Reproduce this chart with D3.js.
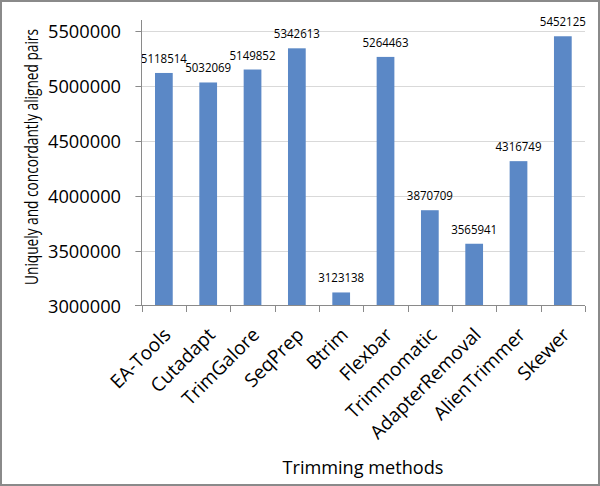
<!DOCTYPE html>
<html>
<head>
<meta charset="utf-8">
<script src="https://cdn.jsdelivr.net/npm/d3@7"></script>
<style>
  body { margin: 0; background: #fff; }
  svg { display: block; font-family: "Open Sans", sans-serif; }
</style>
</head>
<body>
<svg id="chart" width="600" height="486"></svg>
<script>
var methods = ["EA-Tools", "Cutadapt", "TrimGalore", "SeqPrep", "Btrim", "Flexbar",
               "Trimmomatic", "AdapterRemoval", "AlienTrimmer", "Skewer"];
var pairs = [5118514, 5032069, 5149852, 5342613, 3123138, 5264463,
             3870709, 3565941, 4316749, 5452125];
var yTicks = [3000000, 3500000, 4000000, 4500000, 5000000, 5500000];

var svg = d3.select("#chart");
var width = 600, height = 486;

// outer frame
svg.append("rect")
    .attr("x", 1).attr("y", 1)
    .attr("width", width - 2).attr("height", height - 2)
    .attr("fill", "#fff")
    .attr("stroke", "#8a8a8a")
    .attr("stroke-width", 2);

var x = d3.scaleBand()
    .domain(methods)
    .range([141.7, 585])
    .paddingInner(0.6)
    .paddingOuter(0.3);

var y = d3.scaleLinear()
    .domain([3000000, 5500000])
    .range([306, 31]);

// gridlines + y tick marks
svg.append("g")
    .selectAll("line")
    .data(yTicks.slice(1))
    .enter().append("line")
    .attr("x1", 135.5).attr("x2", 585)
    .attr("y1", function (d) { return Math.round(y(d)) + 0.5; })
    .attr("y2", function (d) { return Math.round(y(d)) + 0.5; })
    .attr("stroke", "#d9d9d9");

svg.append("g")
    .selectAll("line")
    .data(yTicks.slice(1))
    .enter().append("line")
    .attr("x1", 135.5).attr("x2", 141.7)
    .attr("y1", function (d) { return Math.round(y(d)) + 0.5; })
    .attr("y2", function (d) { return Math.round(y(d)) + 0.5; })
    .attr("stroke", "#8a8a8a");

// y tick labels
svg.append("g")
    .selectAll("text")
    .data(yTicks)
    .enter().append("text")
    .attr("x", 121)
    .attr("y", function (d) { return y(d) + 6.5; })
    .attr("text-anchor", "end")
    .attr("font-size", 18.5)
    .attr("textLength", 73)
    .attr("lengthAdjust", "spacingAndGlyphs")
    .attr("fill", "#000")
    .text(function (d) { return d; });

// bars
svg.append("g")
    .selectAll("rect")
    .data(pairs)
    .enter().append("rect")
    .attr("x", function (d, i) { return x(methods[i]); })
    .attr("width", x.bandwidth())
    .attr("y", function (d) { return y(d); })
    .attr("height", function (d) { return y(3000000) - y(d); })
    .attr("fill", "#5b88c6");

// value labels
svg.append("g")
    .selectAll("text")
    .data(pairs)
    .enter().append("text")
    .attr("x", function (d, i) { return x(methods[i]) + x.bandwidth() / 2; })
    .attr("y", function (d) { return y(d) - 10; })
    .attr("text-anchor", "middle")
    .attr("font-size", 12)
    .attr("textLength", 46)
    .attr("lengthAdjust", "spacingAndGlyphs")
    .attr("fill", "#000")
    .text(function (d) { return d; });

// y axis line
svg.append("line")
    .attr("x1", 141.5).attr("x2", 141.5)
    .attr("y1", 20).attr("y2", 306)
    .attr("stroke", "#8a8a8a");

// x axis line + ticks
svg.append("line")
    .attr("x1", 135).attr("x2", 585)
    .attr("y1", 305.5).attr("y2", 305.5)
    .attr("stroke", "#8a8a8a");

var step = x.step();
svg.append("g")
    .selectAll("line")
    .data(d3.range(methods.length + 1))
    .enter().append("line")
    .attr("x1", function (i) { return Math.round(141.7 + i * step) + 0.5; })
    .attr("x2", function (i) { return Math.round(141.7 + i * step) + 0.5; })
    .attr("y1", 306).attr("y2", 312)
    .attr("stroke", "#8a8a8a");

// x category labels
svg.append("g")
    .selectAll("text")
    .data(methods)
    .enter().append("text")
    .attr("transform", function (d) {
        return "translate(" + (x(d) + x.bandwidth() / 2 + 8) + ",336) rotate(-45)";
    })
    .attr("text-anchor", "end")
    .attr("font-size", 19)
    .attr("fill", "#000")
    .text(function (d) { return d; });

// axis titles
svg.append("text")
    .attr("x", 363)
    .attr("y", 474)
    .attr("text-anchor", "middle")
    .attr("font-size", 18.5)
    .attr("textLength", 161)
    .attr("lengthAdjust", "spacingAndGlyphs")
    .text("Trimming methods");

// narrow the y title horizontally so it fits the plot height like the original
svg.append("text")
    .attr("transform", "translate(38,157) rotate(-90) scale(0.76,1)")
    .attr("text-anchor", "middle")
    .attr("font-size", 18)
    .text("Uniquely and concordantly aligned pairs");
</script>
</body>
</html>
